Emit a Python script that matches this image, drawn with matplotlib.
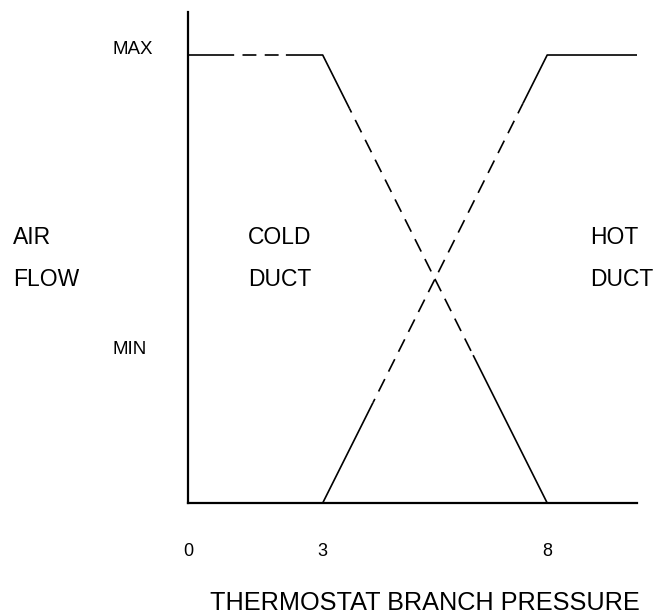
import matplotlib
matplotlib.use("Agg")
import matplotlib.pyplot as plt
import numpy as np

plt.rcParams['font.family'] = ['Liberation Sans', 'DejaVu Sans']
plt.rcParams['lines.scale_dashes'] = False

# Control curves (x = thermostat branch pressure, y = air flow in % of max)
cold_x = [0, 3, 8]
cold_y = [100, 100, 0]
hot_x = [3, 8, 10]
hot_y = [0, 100, 100]

# x ranges along each curve drawn dashed
cold_dashed = [(0.94, 2.18), (3.6, 6.35)]
hot_dashed = [(4.12, 7.46)]

x_ticks = [0, 3, 8]
x_tick_labels = ["0", "3", "8"]


def draw_curve(ax, xs, ys, dashed, lw=1.2):
    # break the polyline into solid and dashed pieces
    cuts = sorted(set([xs[0], xs[-1]] + [v for d in dashed for v in d]))
    for a, b in zip(cuts[:-1], cuts[1:]):
        seg_x = [a] + [x for x in xs if a < x < b] + [b]
        seg_y = np.interp(seg_x, xs, ys)
        is_dashed = any(d0 <= a and b <= d1 for d0, d1 in dashed)
        style = (7, (10, 6)) if is_dashed else '-'
        ax.plot(seg_x, seg_y, color='black', lw=lw, linestyle=style,
                solid_capstyle='butt', dash_capstyle='butt', clip_on=False)


fig = plt.figure(figsize=(6.61, 6.16), dpi=100)
ax = fig.add_axes([188 / 661, 113 / 616, 449 / 661, 491 / 616])

draw_curve(ax, cold_x, cold_y, cold_dashed)
draw_curve(ax, hot_x, hot_y, hot_dashed)

ax.set_xlim(0, 10)
ax.set_ylim(0, 109.6)
ax.spines['top'].set_visible(False)
ax.spines['right'].set_visible(False)
ax.spines['left'].set_linewidth(1.6)
ax.spines['bottom'].set_linewidth(1.6)

ax.set_xticks(x_ticks)
ax.set_xticklabels(x_tick_labels, fontsize=13)
ax.tick_params(axis='x', length=0, pad=29)
ax.set_yticks([])

# y axis level labels
fig.text(113 / 661, 1 - 49 / 616, "MAX", fontsize=13.5, va='center')
fig.text(113 / 661, 1 - 349 / 616, "MIN", fontsize=13.5, va='center')

# region labels
fig.text(13 / 661, 1 - 237 / 616, "AIR", fontsize=16.5, va='center')
fig.text(13 / 661, 1 - 280 / 616, "FLOW", fontsize=16.5, va='center')
fig.text(248 / 661, 1 - 237 / 616, "COLD", fontsize=16.5, va='center')
fig.text(248 / 661, 1 - 280 / 616, "DUCT", fontsize=16.5, va='center')
fig.text(590 / 661, 1 - 237 / 616, "HOT", fontsize=16.5, va='center')
fig.text(590 / 661, 1 - 280 / 616, "DUCT", fontsize=16.5, va='center')

fig.text(425 / 661, 1 - 603 / 616, "THERMOSTAT BRANCH PRESSURE",
         fontsize=18.2, ha='center', va='center')

fig.savefig("out.png", dpi=100)
